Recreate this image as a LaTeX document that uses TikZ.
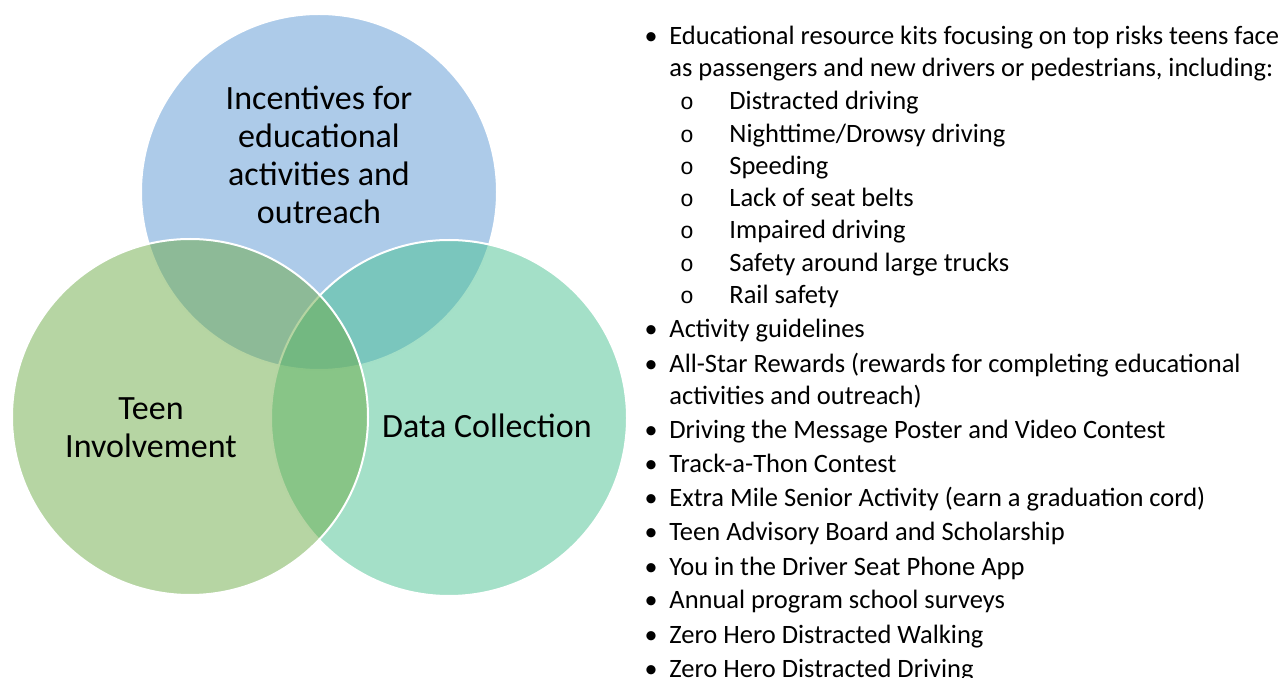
\documentclass[tikz,border=0pt]{standalone}
\usepackage{fontspec}
\setmainfont{Carlito}
\newfontfamily\subbulletfont{Liberation Mono}
\usetikzlibrary{positioning}

\definecolor{incentblue}{RGB}{91,151,211}
\definecolor{teengreen}{RGB}{109,171,71}
\definecolor{datamint}{RGB}{73,193,145}

\tikzset{
  venn/.style={circle, draw=white, line width=1pt, fill opacity=0.5, minimum size=178pt, inner sep=0pt},
  vennlabel/.style={align=center, inner sep=0pt, font=\fontsize{17}{19}\selectfont},
  item/.style={anchor=base west, inner sep=0pt, font=\fontsize{13.25}{16}\selectfont},
  dotmark/.style={anchor=base, inner sep=0pt, font=\fontsize{13}{16}\selectfont},
  ringmark/.style={anchor=base, inner sep=0pt, font=\fontsize{11.5}{16}\subbulletfont},
}

\begin{document}
\begin{tikzpicture}[x=0.5pt, y=-0.5pt]
\useasboundingbox (0,0) rectangle (1285,678);

% the three circles
\node (incent) [venn, fill=incentblue] at (319,192) {};
\node (data) [venn, fill=datamint] at (449,418) {};
\node (teen) [venn, fill=teengreen] at (190,417) {};

\node (Lincent) [vennlabel] at (319,155) {Incentives for\\educational\\activities and\\outreach};
\node (Lteen) [vennlabel] at (151,428) {Teen\\Involvement};
\node (Ldata) [vennlabel] at (487,426) {Data Collection};

% program items
\node (B1) [dotmark] at (651,45) {•};
\node (T1) [item] at (669,45) {Educational resource kits focusing on top risks teens face};
\node (T1b) [item] at (669,77) {as passengers and new drivers or pedestrians, including:};
\node (S1) [ringmark] at (687,110) {o};
\node (U1) [item] at (729,110) {Distracted driving};
\node (S2) [ringmark] at (687,143) {o};
\node (U2) [item] at (729,143) {Nighttime/Drowsy driving};
\node (S3) [ringmark] at (687,175) {o};
\node (U3) [item] at (729,175) {Speeding};
\node (S4) [ringmark] at (687,207) {o};
\node (U4) [item] at (729,207) {Lack of seat belts};
\node (S5) [ringmark] at (687,239) {o};
\node (U5) [item] at (729,239) {Impaired driving};
\node (S6) [ringmark] at (687,272) {o};
\node (U6) [item] at (729,272) {Safety around large trucks};
\node (S7) [ringmark] at (687,304) {o};
\node (U7) [item] at (729,304) {Rail safety};
\node (B2) [dotmark] at (651,338) {•};
\node (T2) [item] at (669,338) {Activity guidelines};
\node (B3) [dotmark] at (651,373) {•};
\node (T3) [item] at (669,373) {All-Star Rewards (rewards for completing educational};
\node (T3b) [item] at (669,405) {activities and outreach)};
\node (B4) [dotmark] at (651,438) {•};
\node (T4) [item] at (669,438) {Driving the Message Poster and Video Contest};
\node (B5) [dotmark] at (651,473) {•};
\node (T5) [item] at (669,473) {Track-a-Thon Contest};
\node (B6) [dotmark] at (651,507) {•};
\node (T6) [item] at (669,507) {Extra Mile Senior Activity (earn a graduation cord)};
\node (B7) [dotmark] at (651,540) {•};
\node (T7) [item] at (669,540) {Teen Advisory Board and Scholarship};
\node (B8) [dotmark] at (651,575) {•};
\node (T8) [item] at (669,575) {You in the Driver Seat Phone App};
\node (B9) [dotmark] at (651,608) {•};
\node (T9) [item] at (669,608) {Annual program school surveys};
\node (B10) [dotmark] at (651,643) {•};
\node (T10) [item] at (669,643) {Zero Hero Distracted Walking};
\node (B11) [dotmark] at (651,677) {•};
\node (T11) [item] at (669,677) {Zero Hero Distracted Driving};

\end{tikzpicture}
\end{document}
